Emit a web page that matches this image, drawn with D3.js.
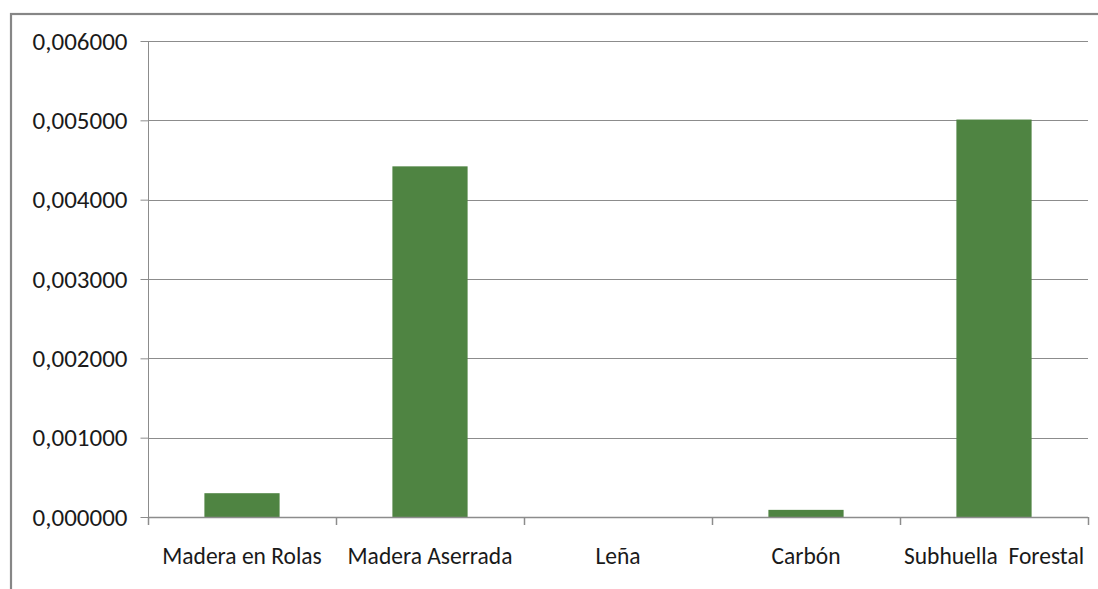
<!DOCTYPE html>
<html>
<head>
<meta charset="utf-8">
<script src="https://cdn.jsdelivr.net/npm/d3@7"></script>
<style>
  html, body { margin: 0; padding: 0; background: #ffffff; }
  svg { display: block; }
  text { font-family: Calibri, Carlito, "Liberation Sans", Arial, sans-serif; fill: #1a1a1a; }
</style>
</head>
<body>
<svg id="chart" width="1098" height="589"></svg>
<script>
// Chart data
const categories = ["Madera en Rolas", "Madera Aserrada", "Leña", "Carbón", "Subhuella  Forestal"];
const values = [0.0003, 0.00442, 0, 0.00009, 0.00501];
const yTicks = [0, 0.001, 0.002, 0.003, 0.004, 0.005, 0.006];

const svg = d3.select("#chart");
const W = 1098, H = 589;
const plot = { left: 148, right: 1088, top: 41, bottom: 517 };
const gridColor = "#8c8c8c";
const barColor = "#4f8442";

// Outer frame of the chart area
svg.append("rect")
  .attr("x", 11).attr("y", 14)
  .attr("width", W + 20).attr("height", H + 20)
  .attr("fill", "none")
  .attr("stroke", "#868686")
  .attr("stroke-width", 2.2);

const x = d3.scaleBand()
  .domain(categories)
  .range([plot.left, plot.right])
  .paddingInner(0.6)
  .paddingOuter(0.3);

const y = d3.scaleLinear()
  .domain([0, 0.006])
  .range([plot.bottom, plot.top]);

const locale = d3.formatLocale({ decimal: ",", thousands: ".", grouping: [3], currency: ["", ""] });
const fmt = locale.format(".6f");

// Horizontal gridlines
svg.append("g")
  .selectAll("line")
  .data(yTicks.filter(d => d > 0))
  .join("line")
  .attr("x1", plot.left).attr("x2", plot.right)
  .attr("y1", d => Math.round(y(d)) + 0.5)
  .attr("y2", d => Math.round(y(d)) + 0.5)
  .attr("stroke", gridColor)
  .attr("stroke-width", 1);

// Bars
svg.append("g")
  .selectAll("rect")
  .data(categories.map((c, i) => ({ c, v: values[i] })))
  .join("rect")
  .attr("x", d => x(d.c))
  .attr("width", x.bandwidth())
  .attr("y", d => y(d.v))
  .attr("height", d => y(0) - y(d.v))
  .attr("fill", barColor);

// Y axis
const yAxis = svg.append("g")
  .attr("transform", `translate(${plot.left + 0.5},0)`)
  .call(d3.axisLeft(y).tickValues(yTicks).tickFormat(fmt).tickSize(8).tickPadding(13));
yAxis.select(".domain").attr("stroke", gridColor).attr("d", `M0,${plot.top}V${plot.bottom}`);
yAxis.selectAll(".tick line").attr("stroke", gridColor);
yAxis.selectAll(".tick text")
  .attr("font-size", 25)
  .attr("fill", "#1a1a1a")
  .attr("dy", "0.33em")
  .style("font-family", 'Calibri, Carlito, "Liberation Sans", Arial, sans-serif');

// X axis line at zero
svg.append("line")
  .attr("x1", plot.left).attr("x2", plot.right)
  .attr("y1", plot.bottom + 0.5).attr("y2", plot.bottom + 0.5)
  .attr("stroke", gridColor).attr("stroke-width", 1.5);

// Category boundary ticks
const bounds = d3.range(categories.length + 1).map(i => plot.left + i * (plot.right - plot.left) / categories.length);
svg.append("g")
  .selectAll("line")
  .data(bounds)
  .join("line")
  .attr("x1", d => Math.round(d) + 0.5).attr("x2", d => Math.round(d) + 0.5)
  .attr("y1", plot.bottom).attr("y2", plot.bottom + 8)
  .attr("stroke", gridColor).attr("stroke-width", 1.5);

// Category labels
svg.append("g")
  .selectAll("text")
  .data(categories)
  .join("text")
  .attr("x", d => x(d) + x.bandwidth() / 2)
  .attr("y", 564)
  .attr("text-anchor", "middle")
  .attr("font-size", 23.5)
  .style("white-space", "pre")
  .text(d => d);
</script>
</body>
</html>
